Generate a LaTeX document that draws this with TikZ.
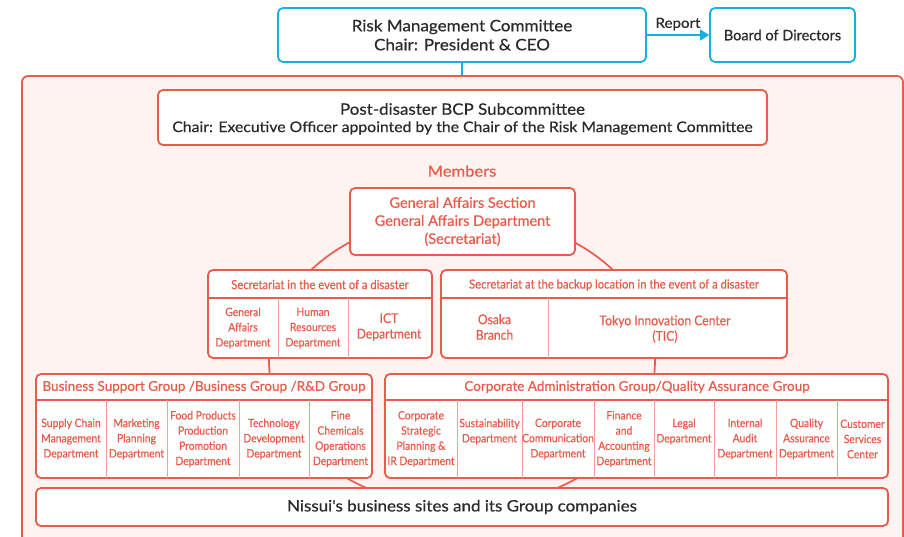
\documentclass[tikz,border=0pt]{standalone}
\usepackage{fontspec}
\setmainfont[FakeBold=0.5]{Lato}
\newfontfamily\widef[FakeStretch=1.08,FakeBold=0.5]{Lato}
\newfontfamily\narrowf[FakeStretch=0.9,FakeBold=0.5]{Lato}
\usetikzlibrary{arrows.meta}
\definecolor{cy}{HTML}{1AAEE0}
\definecolor{rd}{HTML}{E85C4B}
\definecolor{rdlight}{HTML}{F3A196}
\definecolor{bg}{HTML}{FFF3F2}
\definecolor{tx}{HTML}{2A2A2A}
\begin{document}
\begin{tikzpicture}[x=1pt,y=-1pt,
  cbox/.style={draw=cy, line width=1.8pt, rounded corners=5pt, fill=white, inner sep=0pt, text=tx, align=center},
  rbox/.style={draw=rd, line width=1.8pt, rounded corners=5pt, fill=white, inner sep=0pt, align=center},
  hdiv/.style={draw=rd, line width=1.2pt},
  vdiv/.style={draw=rdlight, line width=1pt},
  cell/.style={text=rd, align=center, font=\narrowf\fontsize{11.5}{15.2}\selectfont, inner sep=0pt},
  bigcell/.style={cell, font=\narrowf\fontsize{13.5}{15.5}\selectfont},
  head/.style={text=rd, align=center, inner sep=0pt},
  conn/.style={draw=rd, line width=1.7pt}]
\useasboundingbox (0,0) rectangle (904,536);
% top committee
\node[cbox, minimum width=368pt, minimum height=54pt, font=\widef\fontsize{15.8}{19}\selectfont] (rmc) at (462,35) {Risk Management Committee\\Chair: President \& CEO};
\node[cbox, minimum width=145pt, minimum height=54pt, font=\fontsize{14.5}{18}\selectfont] (bod) at (782.5,35) {Board of Directors};
\draw[cy, line width=1.5pt, -{Triangle[length=9pt,width=11pt]}] (rmc.east) -- (bod.west)
  node[midway, above=4pt, text=tx, font=\widef\fontsize{14}{15}\selectfont, inner sep=0pt] {Report};
% outer area
\node[draw=rd, fill=bg, line width=1.8pt, rounded corners=6pt, minimum width=881pt, minimum height=472pt, inner sep=0pt] (outer) at (462.5,312) {};
\draw[cy, line width=1.5pt] (rmc.south) -- (rmc.south |- outer.north);
% background ellipse
\draw[conn] (462,361) ellipse [x radius=193pt, y radius=146pt];
% BCP subcommittee
\node[rbox, minimum width=609pt, minimum height=55pt, text=tx] (bcp) at (462.5,117.5) {};
\node[text=tx, font=\widef\fontsize{15.7}{18}\selectfont, inner sep=0pt] (bcpt) at (462.5,109) {Post-disaster BCP Subcommittee};
\node[text=tx, font=\widef\fontsize{14.6}{16}\selectfont, inner sep=0pt] (bcps) at (462.5,128) {Chair: Executive Officer appointed by the Chair of the Risk Management Committee};
\node[head, font=\widef\fontsize{15.3}{18}\selectfont] (members) at (462,171) {Members};
% General affairs
\node[rbox, text=rd, minimum width=225pt, minimum height=67pt, font=\fontsize{14.5}{18}\selectfont] (ga) at (462.5,221.5) {General Affairs Section\\General Affairs Department\\(Secretariat)};
% Secretariat left
\node[rbox, minimum width=224pt, minimum height=88pt] (secl) at (320,314) {};
\draw[hdiv] (208,298) -- (432,298);
\draw[vdiv] (278,298) -- (278,358);
\draw[vdiv] (348,298) -- (348,358);
\node[head, font=\narrowf\fontsize{12.5}{15}\selectfont] (seclh) at (320,284.5) {Secretariat in the event of a disaster};
\node[cell] (sl1) at (243,328) {General\\Affairs\\Department};
\node[cell] (sl2) at (313,328) {Human\\Resources\\Department};
\node[bigcell] (sl3) at (389,327) {ICT\\Department};
% Secretariat right
\node[rbox, minimum width=346pt, minimum height=88pt] (secr) at (614,314) {};
\draw[hdiv] (441,298) -- (787,298);
\draw[vdiv] (548,298) -- (548,358);
\node[head, font=\narrowf\fontsize{12.5}{15}\selectfont] (secrh) at (614,285) {Secretariat at the backup location in the event of a disaster};
\node[bigcell] (sr1) at (494.5,327) {Osaka\\Branch};
\node[bigcell] (sr2) at (665,329) {Tokyo Innovation Center\\(TIC)};
% Group left
\node[rbox, minimum width=336pt, minimum height=104pt] (grl) at (204,426) {};
\draw[hdiv] (36,400) -- (372,400);
\foreach \x in {106,167,239,309} \draw[vdiv] (\x,400) -- (\x,478);
\node[head, font=\fontsize{13.5}{16}\selectfont] (grlh) at (204,387) {Business Support Group /Business Group /R\&D Group};
\node[cell] (gl1) at (71,439) {Supply Chain\\Management\\Department};
\node[cell] (gl2) at (136.5,439) {Marketing\\Planning\\Department};
\node[cell] (gl3) at (203,439) {Food Products\\Production\\Promotion\\Department};
\node[cell] (gl4) at (274,439) {Technology\\Development\\Department};
\node[cell] (gl5) at (340.5,439) {Fine\\Chemicals\\Operations\\Department};
% Group right
\node[rbox, minimum width=503pt, minimum height=104pt] (grr) at (636.5,426) {};
\draw[hdiv] (385,400) -- (888,400);
\foreach \x in {457,522,594,654,714,776,837} \draw[vdiv] (\x,400) -- (\x,478);
\node[head, font=\fontsize{13.5}{16}\selectfont] (grrh) at (637,387) {Corporate Administration Group/Quality Assurance Group};
\node[cell] (gr1) at (421,439) {Corporate\\Strategic\\Planning \&\\IR Department};
\node[cell] (gr2) at (489.5,431.5) {Sustainability\\Department};
\node[cell] (gr3) at (558,439) {Corporate\\Communication\\Department};
\node[cell] (gr4) at (624,439) {Finance\\and\\Accounting\\Department};
\node[cell] (gr5) at (684,431.5) {Legal\\Department};
\node[cell] (gr6) at (745,439) {Internal\\Audit\\Department};
\node[cell] (gr7) at (806.5,439) {Quality\\Assurance\\Department};
\node[cell] (gr8) at (862.5,439) {Customer\\Services\\Center};
% bottom
\node[rbox, text=tx, minimum width=852pt, minimum height=38pt, font=\widef\fontsize{15.7}{18}\selectfont] (sites) at (462,507) {Nissui's business sites and its Group companies};
\end{tikzpicture}
\end{document}
